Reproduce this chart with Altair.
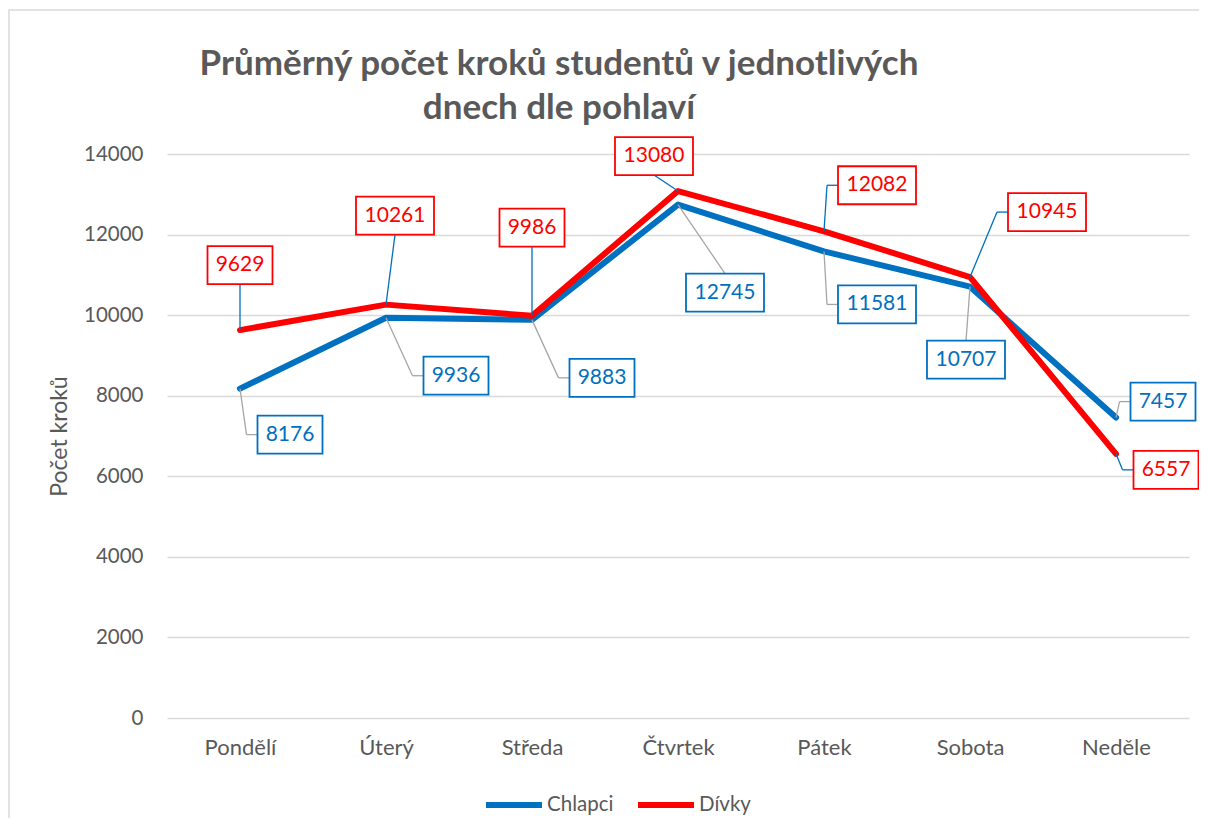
import json
import altair as alt
import pandas as pd

# ---------------- data ----------------
days = ["Pondělí", "Úterý", "Středa", "Čtvrtek", "Pátek", "Sobota", "Neděle"]
series_names = ["Chlapci", "Dívky"]
chlapci = [8176, 9936, 9883, 12745, 11581, 10707, 7457]
divky = [9629, 10261, 9986, 13080, 12082, 10945, 6557]

# ---------------- callout layout (pixels, box centre relative to its point) ----------------
chlapci_lbl_dx = [50, 70, 70, 47, 53, -4, 47]
chlapci_lbl_dy = [46, 58, 58, 88, 53, 73, -16]
chlapci_leader = ["h", "h", "h", "v", "h", "v", "h"]
divky_lbl_dx = [0, 9, 0, -24, 53, 77, 50]
divky_lbl_dy = [-65, -89, -88, -35, -46, -65, 16]
divky_leader = ["v", "v", "v", "v", "h", "h", "h"]

colors = ["#0070C0", "#FF0000"]
leader_colors = ["#A6A6A6", "#0070C0"]
TXT = "#595959"
GRID = "#D9D9D9"
FONT = "Lato"

W, H = 1022, 564
YMAX = 14000
PX_X = W / len(days)
PX_Y = H / YMAX
BOX_H = 38


def box_w(v):
    return 13 * len(str(v)) + 13


line_rows, box_rows, leader_rows = [], [], []
all_series = [
    (series_names[0], chlapci, chlapci_lbl_dx, chlapci_lbl_dy, chlapci_leader, colors[0], leader_colors[0]),
    (series_names[1], divky, divky_lbl_dx, divky_lbl_dy, divky_leader, colors[1], leader_colors[1]),
]
for name, vals, ldx, ldy, lkind, col, lcol in all_series:
    for i, v in enumerate(vals):
        line_rows.append({"x": i, "value": v, "series": name})

        def dx_(ox, i=i):
            return i + ox / PX_X

        def dy_(oy, v=v):
            return v - oy / PX_Y

        w = box_w(v)
        ox, oy = ldx[i], ldy[i]
        box_rows.append({
            "cx": dx_(ox), "cy": dy_(oy),
            "x1": dx_(ox - w / 2), "x2": dx_(ox + w / 2),
            "y1": dy_(oy - BOX_H / 2), "y2": dy_(oy + BOX_H / 2),
            "label": str(v), "col": col,
        })
        if lkind[i] == "v":
            ey = oy + BOX_H / 2 if oy < 0 else oy - BOX_H / 2
            leader_rows.append({"x": dx_(0), "y": dy_(0), "xe": dx_(ox), "ye": dy_(ey), "col": lcol})
        else:
            side = 1 if ox > 0 else -1
            edge = ox - side * w / 2
            elbow = edge - side * 11
            leader_rows.append({"x": dx_(0), "y": dy_(0), "xe": dx_(elbow), "ye": dy_(oy), "col": lcol})
            leader_rows.append({"x": dx_(elbow), "y": dy_(oy), "xe": dx_(edge), "ye": dy_(oy), "col": lcol})

line_df = pd.DataFrame(line_rows)
box_df = pd.DataFrame(box_rows)
leader_df = pd.DataFrame(leader_rows)

xscale = alt.Scale(domain=[-0.5, len(days) - 0.5], nice=False, zero=False)
yscale = alt.Scale(domain=[0, YMAX], nice=False)

label_expr = json.dumps(days, ensure_ascii=False) + "[datum.value]"

xaxis = alt.Axis(values=list(range(len(days))), labelExpr=label_expr, grid=False,
                 domain=False, ticks=False, labelFont=FONT, labelFontSize=22,
                 labelColor=TXT, labelPadding=19)
yaxis = alt.Axis(values=list(range(0, YMAX + 1, 2000)), format="d", grid=True, gridColor=GRID,
                 gridWidth=1.4, domain=False, ticks=False, labelFont=FONT,
                 labelFontSize=20.5, labelColor=TXT, labelPadding=24,
                 titleFont=FONT, titleFontSize=23, titleFontWeight="normal",
                 titleColor=TXT, titlePadding=12)
YTITLE = "Počet kroků"


def X(field):
    return alt.X(field, scale=xscale, axis=xaxis, title=None)


def Y(field):
    return alt.Y(field, scale=yscale, axis=yaxis, title=YTITLE)


lines = alt.Chart(line_df).mark_line(strokeWidth=6, strokeJoin="round", strokeCap="round").encode(
    x=X("x:Q"),
    y=Y("value:Q"),
    color=alt.Color("series:N", scale=alt.Scale(domain=series_names, range=colors),
                    legend=alt.Legend(title=None, orient="none", direction="horizontal",
                                      legendX=316, legendY=620, symbolType="stroke",
                                      symbolSize=3136, symbolStrokeWidth=6,
                                      labelFont=FONT, labelFontSize=20.5, labelColor=TXT,
                                      labelOffset=2, columnPadding=12, padding=0)),
)

leaders = alt.Chart(leader_df).mark_rule(strokeWidth=1.3).encode(
    x=X("x:Q"), y=Y("y:Q"),
    x2="xe:Q", y2="ye:Q",
    color=alt.Color("col:N", scale=None),
)

boxes = alt.Chart(box_df).mark_rect(fill="white", strokeWidth=1.8).encode(
    x=X("x1:Q"), x2="x2:Q",
    y=Y("y1:Q"), y2="y2:Q",
    stroke=alt.Stroke("col:N", scale=None),
)

texts = alt.Chart(box_df).mark_text(font=FONT, fontSize=21, baseline="middle", align="center").encode(
    x=X("cx:Q"), y=Y("cy:Q"),
    text="label:N",
    color=alt.Color("col:N", scale=None),
)

frame = alt.Chart(pd.DataFrame({"a": [0]})).mark_rect(fillOpacity=0, stroke=GRID, strokeWidth=1.5).encode(
    x=alt.value(-158), x2=alt.value(1040), y=alt.value(-144), y2=alt.value(720)
)

chart = alt.layer(lines, leaders, boxes, texts, frame).properties(
    width=W, height=H,
    title=alt.TitleParams(
        text=["Průměrný počet kroků studentů v jednotlivých", "dnech dle pohlaví"],
        font=FONT, fontSize=35, fontWeight="bold", color=TXT, anchor="middle",
        dx=-119, lineHeight=44, offset=-117,
    ),
    autosize=alt.AutoSizeParams(type="none"),
    padding={"left": 159, "top": 146, "right": 10, "bottom": 100},
).configure_view(stroke=None)

chart.save("out.html", embed_options={"renderer": "svg", "actions": False})
